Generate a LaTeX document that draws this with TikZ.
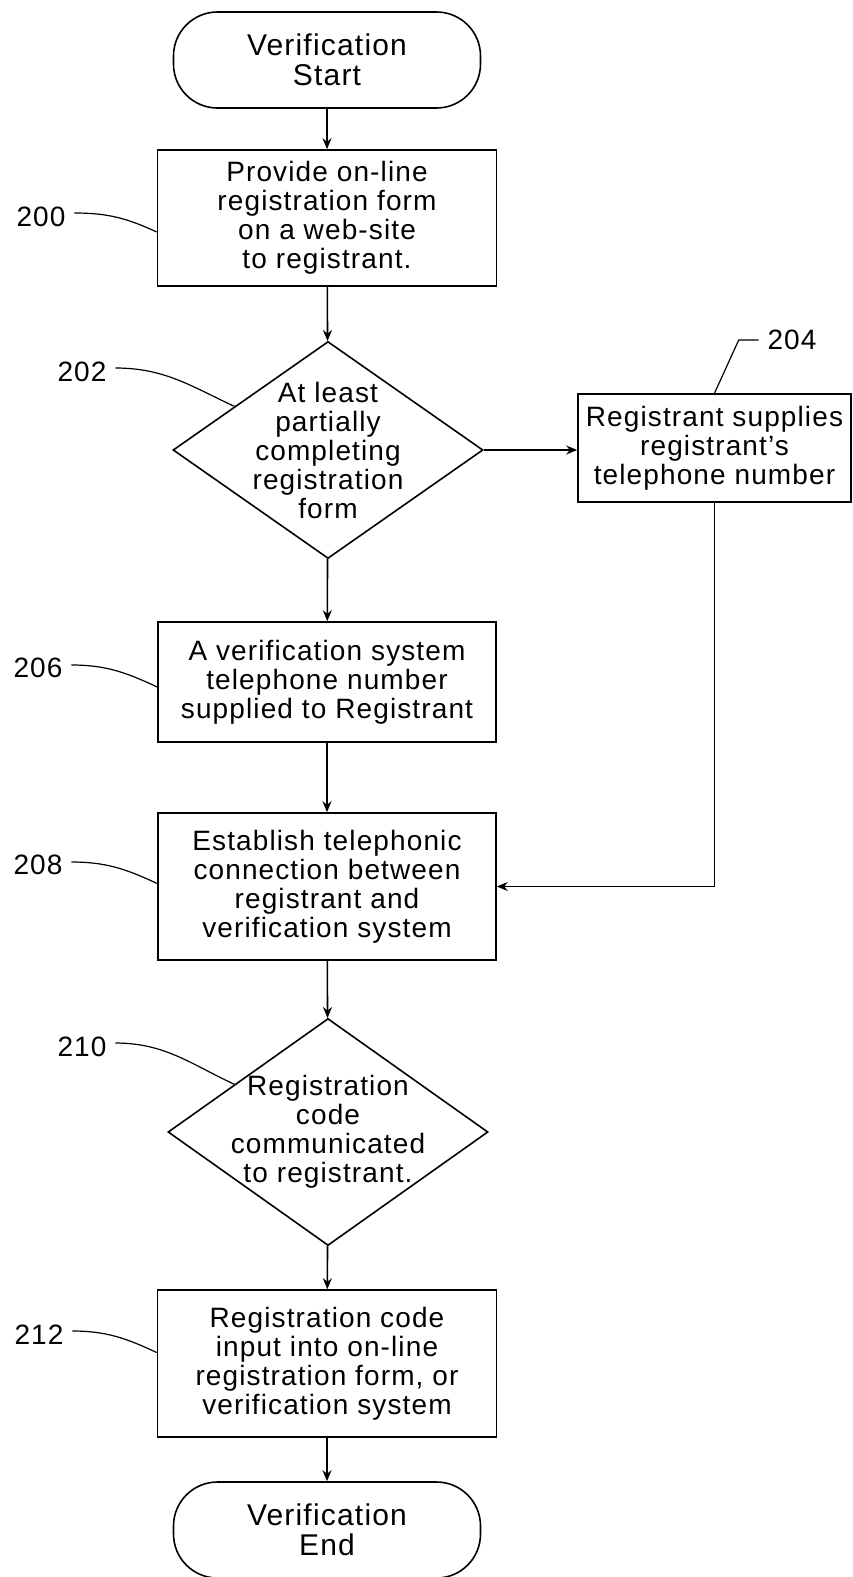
\documentclass[tikz,border=0pt]{standalone}
\usepackage{fontspec}
\setmainfont{Liberation Sans}[LetterSpace=4.0]
\usetikzlibrary{shapes.geometric,arrows.meta}

\begin{document}
\begin{tikzpicture}[x=1pt,y=-1pt,line width=1.6pt,
	box/.style={draw,rectangle,inner sep=0pt,align=center,font=\fontsize{28}{29}\selectfont},
	term/.style={box,rounded corners=44pt,minimum width=307pt,minimum height=96pt,font=\fontsize{30}{30}\selectfont},
	decision/.style={draw,diamond,inner sep=0pt},
	txt/.style={align=center,font=\fontsize{28}{29}\selectfont},
	num/.style={inner sep=8pt,font=\fontsize{28}{29}\selectfont},
	flow/.style={-{Stealth[length=11pt,width=9pt]}},
	lead/.style={line width=1.2pt,out=0,in=155}]
	%\draw[help lines] (0,0) grid[step=50] (853,1577);
	\useasboundingbox (0,0) rectangle (853,1577);
	% flow chart
	\node[term] (start) at (327,60) {Verification\\Start};
	\node[box,minimum width=339pt,minimum height=136pt] (b200) at (327,218) {Provide on-line\\registration form\\on a web-site\\to registrant.};
	\node[decision,minimum width=310pt,minimum height=217pt,
		label={[txt]center:{At least\\partially\\completing\\registration\\form}}] (d202) at (328,450) {};
	\node[box,minimum width=273pt,minimum height=108pt] (b204) at (714.5,448) {Registrant supplies\\registrant's\\telephone number};
	\node[box,minimum width=338pt,minimum height=120pt] (b206) at (327,682) {A verification system\\telephone number\\supplied to Registrant};
	\node[box,minimum width=338pt,minimum height=147pt] (b208) at (327,886.5) {Establish telephonic\\connection between\\registrant and\\verification system};
	\node[decision,minimum width=320pt,minimum height=227pt,
		label={[txt]center:{Registration\\code\\communicated\\to registrant.}}] (d210) at (328,1132) {};
	\node[box,minimum width=339pt,minimum height=147pt] (b212) at (327,1363.5) {Registration code\\input into on-line\\registration form, or\\verification system};
	\node[term] (end) at (327,1530) {Verification\\End};
	% reference numerals
	\node[num] (l200) at (41,217) {200};
	\node[num] (l202) at (82,372) {202};
	\node[num] (l204) at (792,340) {204};
	\node[num] (l206) at (38,668) {206};
	\node[num] (l208) at (38,865) {208};
	\node[num] (l210) at (82,1047) {210};
	\node[num] (l212) at (39,1335) {212};
	% arrows
	\draw[flow] (start) -- (b200);
	\draw[flow] (b200) -- (d202);
	\draw[flow] (d202.east) -- (d202.east -| b204.west);
	\draw[flow] (d202) -- (b206);
	\draw[flow] (b206) -- (b208);
	\draw[flow] (b204) |- (b208);
	\draw[flow] (b208) -- (d210);
	\draw[flow] (d210) -- (b212);
	\draw[flow] (b212) -- (end);
	% leader lines
	\draw[lead] ([yshift=4pt]l200.east) to ([yshift=-14pt]b200.west);
	\draw[lead] ([yshift=4pt]l202.east) to (d202.155);
	\draw[lead] (l204.west) -- ++(-20,0) -- (b204.north);
	\draw[lead] ([yshift=3pt]l206.east) to ([yshift=-5pt]b206.west);
	\draw[lead] ([yshift=3pt]l208.east) to ([yshift=3pt]b208.west);
	\draw[lead] ([yshift=4pt]l210.east) to (d210.153);
	\draw[lead] ([yshift=4pt]l212.east) to ([yshift=11pt]b212.west);
\end{tikzpicture}
\end{document}
